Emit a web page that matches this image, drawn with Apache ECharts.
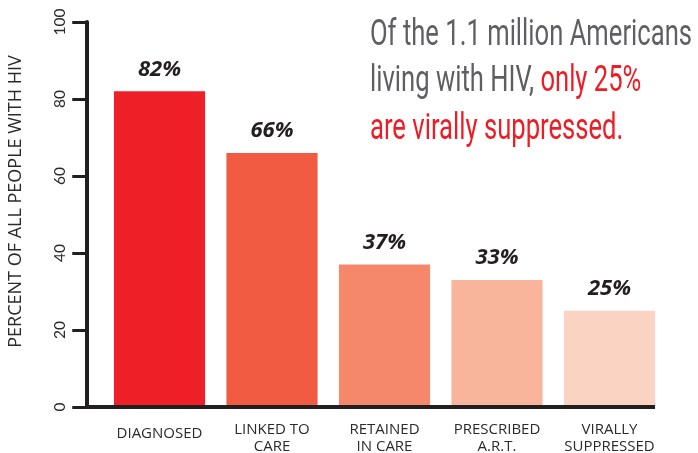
<!DOCTYPE html>
<html>
<head>
<meta charset="utf-8">
<script src="https://cdn.jsdelivr.net/npm/echarts@6/dist/echarts.min.js"></script>
<style>
html,body{margin:0;padding:0;background:#fff;}
#chart{width:698px;height:453px;}
</style>
</head>
<body>
<div id="chart"></div>
<script>
const categories = ['DIAGNOSED', 'LINKED TO\nCARE', 'RETAINED\nIN CARE', 'PRESCRIBED\nA.R.T.', 'VIRALLY\nSUPPRESSED'];
const values = [82, 66, 37, 33, 25];
const barColors = ['#EE1F27', '#F15B41', '#F5876A', '#F8B59B', '#FAD3C2'];
const yTicks = [0, 20, 40, 60, 80, 100];
const yAxisName = 'PERCENT OF ALL PEOPLE WITH HIV';
const titleLines = [
  [{t: 'Of the 1.1 million Americans', c: 'g'}],
  [{t: 'living with HIV, ', c: 'g'}, {t: 'only 25%', c: 'r'}],
  [{t: 'are virally suppressed.', c: 'r'}]
];

const dark = '#231f20';
const textCol = '#2b2b2b';
const chart = echarts.init(document.getElementById('chart'));

const option = {
  animation: false,
  grid: {left: 103.25, right: 32.25, top: 22, bottom: 46, containLabel: false, outerBoundsMode: 'none'},
  xAxis: {
    type: 'category',
    data: categories,
    axisLine: {show: false},
    axisTick: {show: false},
    axisLabel: {
      interval: 0,
      margin: 14,
      color: textCol,
      fontFamily: 'Open Sans',
      fontSize: 15,
      lineHeight: 17,
      formatter: function (v) { return v.indexOf('\n') >= 0 ? v : '{s|' + v + '}'; },
      rich: {s: {fontFamily: 'Open Sans', fontSize: 15, lineHeight: 17, color: textCol, padding: [9, 0, 0, 0]}}
    }
  },
  yAxis: {
    type: 'value',
    min: yTicks[0],
    max: yTicks[yTicks.length - 1],
    interval: 20,
    offset: 17,
    name: yAxisName,
    nameLocation: 'middle',
    nameGap: 61,
    nameTextStyle: {fontFamily: 'Open Sans', fontSize: 18, color: textCol, padding: [0, 0, 0, 26]},
    axisLine: {show: true, lineStyle: {color: dark, width: 4}},
    axisTick: {show: true, length: 14, lineStyle: {color: dark, width: 3}},
    splitLine: {show: false},
    axisLabel: {rotate: 90, margin: 18, fontFamily: 'Lato', fontSize: 15.5, color: textCol}
  },
  series: [{
    type: 'bar',
    barCategoryGap: '19%',
    data: values.map((v, i) => ({value: v, itemStyle: {color: barColors[i]}})),
    label: {
      show: true,
      position: 'top',
      distance: 11,
      formatter: '{c}%',
      fontFamily: 'Open Sans',
      fontWeight: 'bold',
      fontStyle: 'italic',
      fontSize: 22,
      color: dark
    }
  }]
};
chart.setOption(option);

// baseline from the y axis to the right edge of the last bar
const y0 = chart.convertToPixel({yAxisIndex: 0}, 0);
const c0 = chart.convertToPixel({xAxisIndex: 0}, 0);
const c1 = chart.convertToPixel({xAxisIndex: 0}, 1);
const band = c1 - c0;
const xLastEnd = chart.convertToPixel({xAxisIndex: 0}, categories.length - 1) + band * 0.81 / 2;
const axisX = 103.25 - 17;

// title measurement for condensed look
const tFamily = 'Roboto';
const tWeight = 400;
const tSize = 36;
const ctx = document.createElement('canvas').getContext('2d');
ctx.font = tWeight + ' ' + tSize + 'px ' + tFamily;
const w1 = ctx.measureText(titleLines[0].map(s => s.t).join('')).width;
const sx = 322 / w1;
const lineY = [36, 82, 130];
const titleEls = titleLines.map((parts, i) => ({
  type: 'text',
  x: 0,
  y: lineY[i],
  style: {
    text: parts.map(p => '{' + p.c + '|' + p.t + '}').join(''),
    rich: {
      g: {fontFamily: tFamily, fontWeight: tWeight, fontSize: tSize, fill: '#5e5f61'},
      r: {fontFamily: tFamily, fontWeight: tWeight, fontSize: tSize, fill: '#EE1C25'}
    },
    verticalAlign: 'middle',
    align: 'left'
  }
}));

chart.setOption({
  graphic: [
    {type: 'line', shape: {x1: axisX, y1: y0, x2: xLastEnd, y2: y0}, style: {stroke: dark, lineWidth: 4}, z: 10},
    {type: 'group', x: 370, y: 0, scaleX: sx, children: titleEls}
  ]
});
</script>
</body>
</html>
